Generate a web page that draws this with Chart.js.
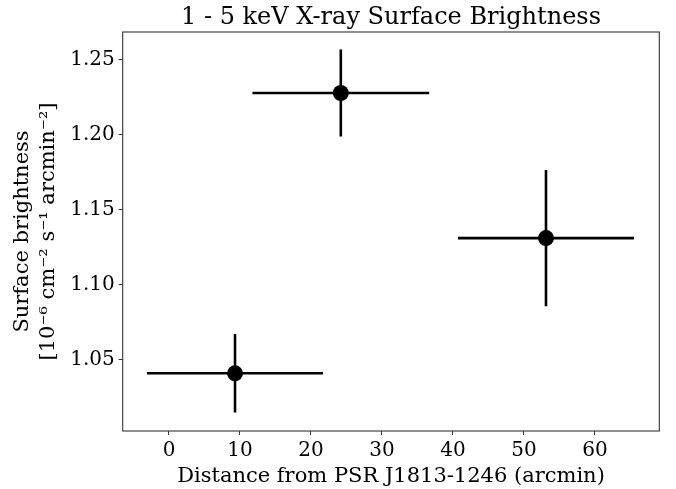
<!DOCTYPE html>
<html>
<head>
<meta charset="utf-8">
<script src="https://cdn.jsdelivr.net/npm/chart.js@4"></script>
<style>
  html,body{margin:0;padding:0;background:#fff;}
  #wrap{width:676px;height:489px;}
</style>
</head>
<body>
<div id="wrap"><canvas id="c" width="676" height="489"></canvas></div>
<script>
// distance (arcmin) and surface brightness, with symmetric errors
const distance = [9.3, 24.2, 53.1];
const distErr = [12.4, 12.45, 12.4];
const brightness = [1.0407, 1.2277, 1.1309];
const brightErr = [0.0262, 0.029, 0.0455];
const xTicks = [0, 10, 20, 30, 40, 50, 60];
const yTicks = [1.05, 1.10, 1.15, 1.20, 1.25];
const chartTitle = '1 - 5 keV X-ray Surface Brightness';

const font = "'DejaVu Serif', serif";
const ink = '#000';

const errorBars = {
  id: 'errorBars',
  beforeDatasetsDraw(chart){
    const {ctx, scales:{x, y}} = chart;
    ctx.save();
    ctx.strokeStyle = ink; ctx.lineWidth = 2.6; ctx.lineCap = 'butt';
    distance.forEach((d, i) => {
      const b = brightness[i];
      ctx.beginPath();
      ctx.moveTo(x.getPixelForValue(d - distErr[i]), y.getPixelForValue(b));
      ctx.lineTo(x.getPixelForValue(d + distErr[i]), y.getPixelForValue(b));
      ctx.moveTo(x.getPixelForValue(d), y.getPixelForValue(b - brightErr[i]));
      ctx.lineTo(x.getPixelForValue(d), y.getPixelForValue(b + brightErr[i]));
      ctx.stroke();
    });
    ctx.restore();
  },
  afterDraw(chart){
    const {ctx, chartArea:a} = chart;
    ctx.save();
    ctx.strokeStyle = '#333'; ctx.lineWidth = 1.1;
    ctx.strokeRect(a.left, a.top, a.right - a.left, a.bottom - a.top);
    // title centred over the plot box, like matplotlib
    ctx.fillStyle = ink; ctx.font = '24px ' + font;
    ctx.textAlign = 'center'; ctx.textBaseline = 'alphabetic';
    ctx.fillText(chartTitle, (a.left + a.right) / 2, a.top - 8.4);
    ctx.restore();
  }
};

new Chart(document.getElementById('c'), {
  type: 'scatter',
  data: {
    datasets: [{
      data: distance.map((d, i) => ({x: d, y: brightness[i]})),
      backgroundColor: ink, borderColor: ink,
      pointRadius: 8, pointHoverRadius: 8, borderWidth: 0
    }]
  },
  options: {
    responsive: false, animation: false,
    layout: {padding: {top: 32, right: 16.7, bottom: 0, left: 0}},
    plugins: {legend: {display: false}, tooltip: {enabled: false}, title: {display: false}},
    scales: {
      x: {
        type: 'linear', min: -6.52, max: 69.06,
        afterBuildTicks: s => { s.ticks = xTicks.map(v => ({value: v})); },
        afterFit: s => { s.height = 489 - 431; },
        ticks: {color: ink, font: {family: font, size: 20}, padding: 4, maxRotation: 0},
        grid: {drawOnChartArea: false, drawTicks: true, tickLength: 4, color: '#333'},
        border: {display: false},
        title: {display: true, text: 'Distance from PSR J1813-1246 (arcmin)', color: ink,
                font: {family: font, size: 21, lineHeight: 1.2}, padding: {top: 0, bottom: 0}}
      },
      y: {
        type: 'linear', min: 1.0022, max: 1.2684,
        afterBuildTicks: s => { s.ticks = yTicks.map(v => ({value: v})); },
        afterFit: s => { s.width = 122.7; },
        ticks: {color: ink, font: {family: font, size: 20}, padding: 4,
                callback: v => v.toFixed(2)},
        grid: {drawOnChartArea: false, drawTicks: true, tickLength: 4, color: '#333'},
        border: {display: false},
        title: {display: true, text: ['Surface brightness', '[10⁻⁶ cm⁻² s⁻¹ arcmin⁻²]'], color: ink,
                font: {family: font, size: 21, lineHeight: 1.25}, padding: {top: 9, bottom: 0}}
      }
    }
  },
  plugins: [errorBars]
});
</script>
</body>
</html>
